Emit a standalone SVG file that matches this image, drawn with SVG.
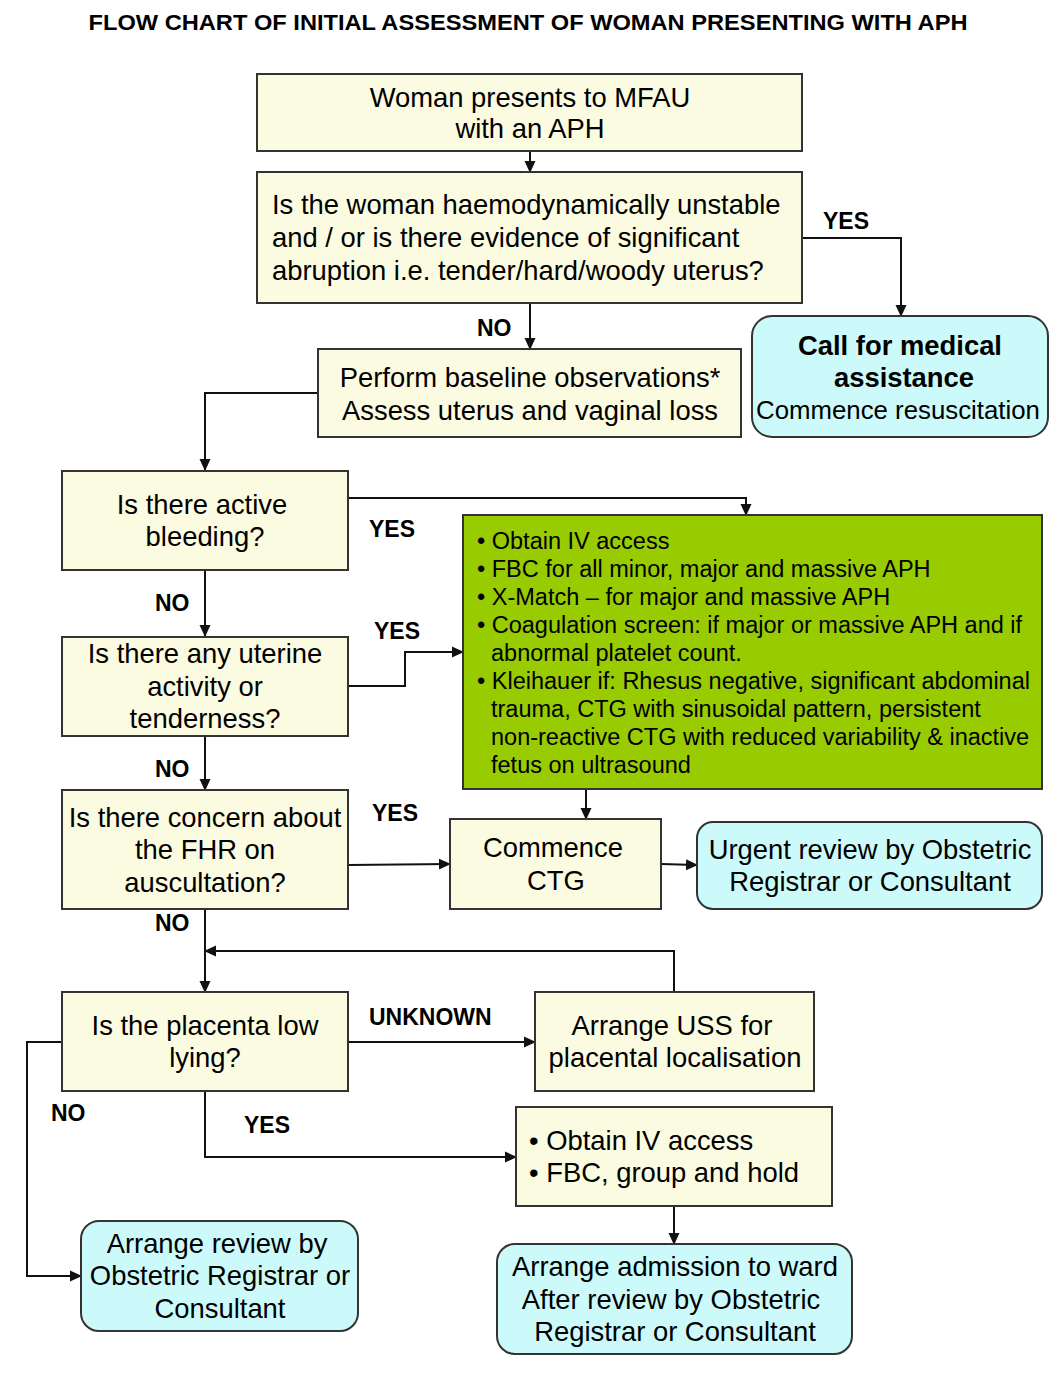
<svg xmlns="http://www.w3.org/2000/svg" width="1064" height="1375" viewBox="0 0 1064 1375">
<style>
text{font-family:"Liberation Sans",Arial,sans-serif;fill:#000}
.t{font-size:27.4px}
.c{text-anchor:middle}
.lbl{font-size:23px;font-weight:bold}
.g{font-size:23.5px}
.y{fill:#FBFBE1;stroke:#333;stroke-width:2}
.cy{fill:#CCFAFA;stroke:#333;stroke-width:2}
.gr{fill:#99CC00;stroke:#333;stroke-width:2}
.ln{fill:none;stroke:#111;stroke-width:2}
</style>
<defs>
<marker id="ah" markerWidth="12" markerHeight="12" refX="11" refY="6" orient="auto" markerUnits="userSpaceOnUse"><path d="M0,0.5 L12,6 L0,11.5 z" fill="#111"/></marker>
</defs>
<rect width="1064" height="1375" fill="#fff"/>
<text x="528" y="30" class="c" style="font-size:22px;font-weight:bold" textLength="879" lengthAdjust="spacingAndGlyphs">FLOW CHART OF INITIAL  ASSESSMENT OF WOMAN PRESENTING WITH APH</text>

<g id="connectors">
<line class="ln" x1="530" y1="151" x2="530" y2="172" marker-end="url(#ah)"/>
<polyline class="ln" points="802,238 901,238 901,316" marker-end="url(#ah)"/>
<line class="ln" x1="530" y1="303" x2="530" y2="349" marker-end="url(#ah)"/>
<polyline class="ln" points="318,393 205,393 205,470" marker-end="url(#ah)"/>
<polyline class="ln" points="342,498 746,498 746,515" marker-end="url(#ah)"/>
<line class="ln" x1="205" y1="570" x2="205" y2="636" marker-end="url(#ah)"/>
<polyline class="ln" points="348,686 405,686 405,652 463,652" marker-end="url(#ah)"/>
<line class="ln" x1="205" y1="736" x2="205" y2="790" marker-end="url(#ah)"/>
<polyline class="ln" points="348,865 450,864" marker-end="url(#ah)"/>
<line class="ln" x1="586" y1="789" x2="586" y2="819" marker-end="url(#ah)"/>
<polyline class="ln" points="661,864 697,865" marker-end="url(#ah)"/>
<line class="ln" x1="205" y1="909" x2="205" y2="992" marker-end="url(#ah)"/>
<polyline class="ln" points="674,992 674,951 205,951" marker-end="url(#ah)"/>
<line class="ln" x1="348" y1="1042" x2="535" y2="1042" marker-end="url(#ah)"/>
<polyline class="ln" points="62,1042 27,1042 27,1276 81,1276" marker-end="url(#ah)"/>
<polyline class="ln" points="205,1091 205,1157 516,1157" marker-end="url(#ah)"/>
<line class="ln" x1="674" y1="1206" x2="674" y2="1244" marker-end="url(#ah)"/>
<text x="823" y="229" class="lbl">YES</text>
<text x="477" y="336" class="lbl">NO</text>
<text x="369" y="537" class="lbl">YES</text>
<text x="155" y="611" class="lbl">NO</text>
<text x="374" y="639" class="lbl">YES</text>
<text x="155" y="777" class="lbl">NO</text>
<text x="372" y="821" class="lbl">YES</text>
<text x="155" y="931" class="lbl">NO</text>
<text x="369" y="1025" class="lbl">UNKNOWN</text>
<text x="51" y="1121" class="lbl">NO</text>
<text x="244" y="1133" class="lbl">YES</text>
</g>

<g id="n1"><rect class="y" x="257" y="74" width="545" height="77"/>
<text class="t c" x="530" y="107">Woman presents to MFAU</text>
<text class="t c" x="530" y="138">with an APH</text></g>

<g id="n2"><rect class="y" x="257" y="172" width="545" height="131"/>
<text class="t" x="272" y="214">Is the woman haemodynamically unstable</text>
<text class="t" x="272" y="247">and / or is there evidence of significant</text>
<text class="t" x="272" y="280">abruption i.e. tender/hard/woody uterus?</text></g>

<g id="n3"><rect class="cy" x="752" y="316" width="296" height="121" rx="20"/>
<text class="t c" x="900" y="355" style="font-weight:bold">Call for medical</text>
<text class="t c" x="904" y="387" style="font-weight:bold">assistance</text>
<text class="c" x="898" y="419" style="font-size:25.8px">Commence resuscitation</text></g>

<g id="n4"><rect class="y" x="318" y="349" width="423" height="88"/>
<text class="t c" x="530" y="387">Perform baseline observations*</text>
<text class="t c" x="530" y="420">Assess uterus and vaginal loss</text></g>

<g id="n5"><rect class="y" x="62" y="471" width="286" height="99"/>
<text class="t c" x="202" y="514">Is there active</text>
<text class="t c" x="205" y="546">bleeding?</text></g>

<g id="n6"><rect class="gr" x="463" y="515" width="579" height="274"/>
<g class="g">
<text x="477" y="549">• Obtain IV access</text>
<text x="477" y="577">• FBC for all minor, major and massive APH</text>
<text x="477" y="605">• X-Match – for major and massive APH</text>
<text x="477" y="633">• Coagulation screen: if major or massive APH and if</text>
<text x="491" y="661">abnormal platelet count.</text>
<text x="477" y="689">• Kleihauer if: Rhesus negative, significant abdominal</text>
<text x="491" y="717">trauma, CTG with sinusoidal pattern, persistent</text>
<text x="491" y="745">non-reactive CTG with reduced variability &amp; inactive</text>
<text x="491" y="773">fetus on ultrasound</text>
</g></g>

<g id="n7"><rect class="y" x="62" y="637" width="286" height="99"/>
<text class="t c" x="205" y="663">Is there any uterine</text>
<text class="t c" x="205" y="696">activity or</text>
<text class="t c" x="205" y="728">tenderness?</text></g>

<g id="n8"><rect class="y" x="62" y="790" width="286" height="119"/>
<text class="t c" x="205" y="827">Is there concern about</text>
<text class="t c" x="205" y="859">the FHR on</text>
<text class="t c" x="205" y="892">auscultation?</text></g>

<g id="n9"><rect class="y" x="450" y="819" width="211" height="90"/>
<text class="t c" x="553" y="857">Commence</text>
<text class="t c" x="556" y="890">CTG</text></g>

<g id="n10"><rect class="cy" x="697" y="822" width="345" height="87" rx="16"/>
<text class="t c" x="870" y="859">Urgent review by Obstetric</text>
<text class="t c" x="870" y="891">Registrar or Consultant</text></g>

<g id="n11"><rect class="y" x="62" y="992" width="286" height="99"/>
<text class="t c" x="205" y="1035">Is the placenta low</text>
<text class="t c" x="205" y="1067">lying?</text></g>

<g id="n12"><rect class="y" x="535" y="992" width="279" height="99"/>
<text class="t c" x="672" y="1035">Arrange USS for</text>
<text class="t c" x="675" y="1067">placental localisation</text></g>

<g id="n13"><rect class="y" x="516" y="1107" width="316" height="99"/>
<text class="t" x="529" y="1150">• Obtain IV access</text>
<text class="t" x="529" y="1182">• FBC, group and hold</text></g>

<g id="n14"><rect class="cy" x="81" y="1221" width="277" height="110" rx="18"/>
<text class="t c" x="217" y="1253">Arrange review by</text>
<text class="t c" x="220" y="1285">Obstetric Registrar or</text>
<text class="t c" x="220" y="1318">Consultant</text></g>

<g id="n15"><rect class="cy" x="497" y="1244" width="355" height="110" rx="18"/>
<text class="t c" x="675" y="1276">Arrange admission to ward</text>
<text class="t c" x="671" y="1309">After review by Obstetric</text>
<text class="t c" x="675" y="1341">Registrar or Consultant</text></g>
</svg>
